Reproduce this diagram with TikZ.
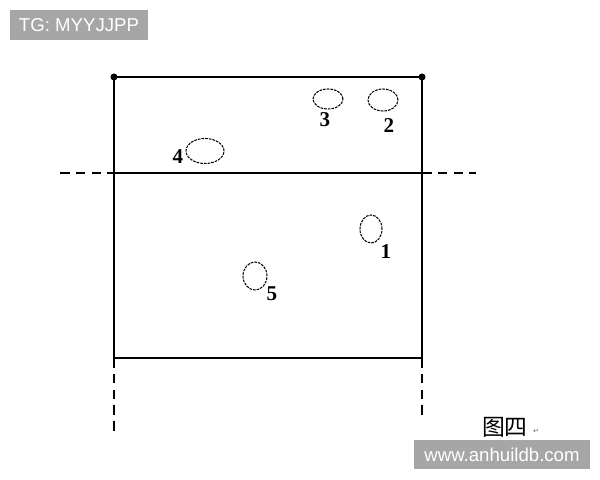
\documentclass[tikz,border=0pt]{standalone}
\usepackage{fontspec}
\setsansfont{Liberation Sans}
\newfontfamily\numfont{Liberation Serif}
\newfontfamily\cjk{Noto Sans CJK SC}
\newfontfamily\symb{DejaVu Sans}
\usetikzlibrary{shapes.geometric}
\begin{document}
\begin{tikzpicture}[x=0.02cm,y=-0.02cm,line width=1pt]
		\tikzstyle{hole}=[draw,ellipse,inner sep=0pt,line width=0.6pt,dash pattern=on 1.5pt off 0.6pt]
		\tikzstyle{num}=[inner sep=0pt,font=\numfont\bfseries\fontsize{12}{13}\selectfont]
		\tikzstyle{ext}=[dash pattern=on 5.5pt off 3.5pt]
		\tikzstyle{tag}=[fill=white!65!black,text=white,inner sep=0pt,font=\sffamily\fontsize{10.6}{12}\selectfont]
		
		\useasboundingbox (0,0) rectangle (600,480);
		
		\coordinate (tl) at (114,77);
		\coordinate (tr) at (422,77);
		\coordinate (bl) at (114,358);
		\coordinate (br) at (422,358);
		\coordinate (ml) at (114,173);
		\coordinate (mr) at (422,173);
		\coordinate (el) at (60,173);
		\coordinate (er) at (476,173);
		\coordinate (dl) at (114,434);
		\coordinate (dr) at (422,420);
		
		\draw (tl) -- (tr) -- (br) -- (bl) -- cycle;
		\draw (ml) -- (mr);
		\draw [ext](el) -- (ml);
		\draw [ext](mr) -- (er);
		\draw [ext](bl) -- (dl);
		\draw [ext](br) -- (dr);
		\fill (tl) circle (2pt);
		\fill (tr) circle (2pt);
		
		\node[hole,minimum width=30*0.02cm,minimum height=20*0.02cm] (h3) at (328,99) {};
		\node[hole,minimum width=30*0.02cm,minimum height=22*0.02cm] (h2) at (383,100) {};
		\node[hole,minimum width=38*0.02cm,minimum height=25*0.02cm] (h4) at (205,151) {};
		\node[hole,minimum width=22*0.02cm,minimum height=28*0.02cm] (h1) at (371,229) {};
		\node[hole,minimum width=24*0.02cm,minimum height=28*0.02cm] (h5) at (255,276) {};
		
		\node[num] (n3) at (325,120) {3};
		\node[num] (n2) at (389,126) {2};
		\node[num] (n4) at (178,157) {4};
		\node[num] (n1) at (386,252) {1};
		\node[num] (n5) at (272,294) {5};
		
		\node[inner sep=0pt,font=\cjk\fontsize{13}{14}\selectfont] (fig) at (505,427) {图四};
		\node[inner sep=0pt,font=\symb\fontsize{4}{5}\selectfont,text=black!60] (ret) at (536,431) {↵};
		
		\node[tag,minimum width=138*0.02cm,minimum height=30*0.02cm] (tg) at (79,25) {TG: MYYJJPP};
		\node[tag,minimum width=176*0.02cm,minimum height=29*0.02cm] (web) at (502,455) {www.anhuildb.com};
	\end{tikzpicture}
\end{document}
